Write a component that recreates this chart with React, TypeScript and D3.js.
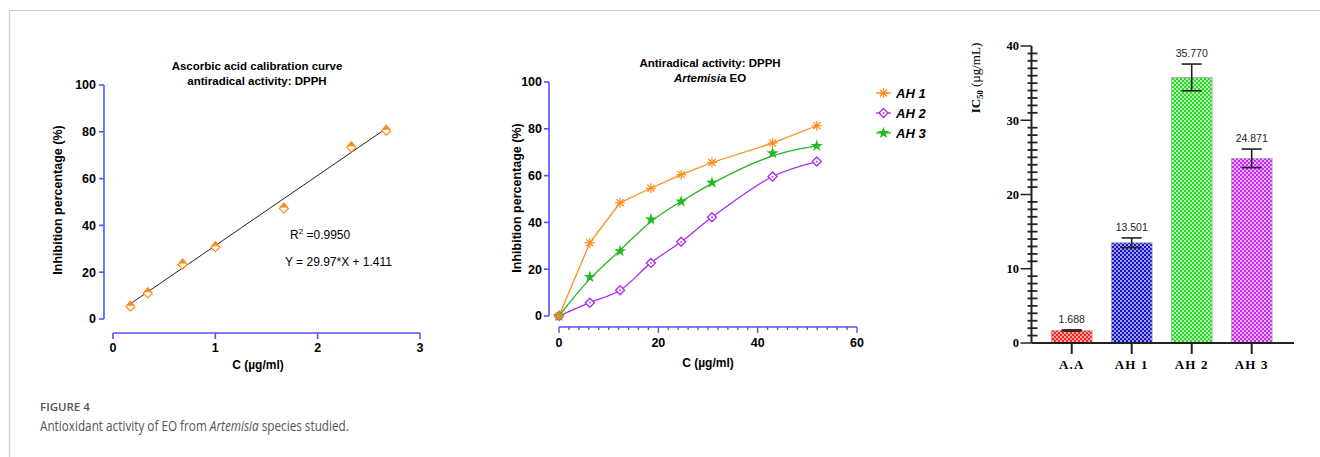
import React from 'react';
import * as d3 from 'd3';

// ---------- Data ----------
const calConc = [0.17, 0.34, 0.68, 1.0, 1.67, 2.33, 2.67];
const calInhib = [5.7, 11.4, 23.7, 31.1, 47.7, 73.8, 80.9];
const calSlope = 29.97;
const calIntercept = 1.411;
const calTicksX = [0, 1, 2, 3];
const calTicksY = [0, 20, 40, 60, 80, 100];

const eoConc = [0, 6.2, 12.3, 18.5, 24.6, 30.8, 43.0, 51.9];
const ah1 = [0, 31.3, 48.4, 54.6, 60.4, 65.6, 73.9, 81.3];
const ah2 = [0, 5.7, 11.0, 22.7, 31.7, 42.2, 59.6, 66.0];
const ah3 = [0, 16.7, 27.7, 41.3, 48.9, 57.0, 69.6, 72.7];
const eoTicksX = [0, 20, 40, 60];
const eoTicksY = [0, 20, 40, 60, 80, 100];
const seriesNames = ['AH 1', 'AH 2', 'AH 3'];

const barCats = ['A.A', 'AH 1', 'AH 2', 'AH 3'];
const ic50 = [1.688, 13.501, 35.77, 24.871];
const ic50Err = [0.08, 0.65, 1.8, 1.25];
const ic50Labels = ['1.688', '13.501', '35.770', '24.871'];
const barTicksY = [0, 10, 20, 30, 40];

// ---------- Styles ----------
const BLUE = '#5252ff';
const ORANGE = '#ff8c1a';
const PURPLE = '#b22cf0';
const GREEN = '#22b822';
const SANS = '"Liberation Sans", Arial, sans-serif';
const SERIF = '"Liberation Serif", "Times New Roman", serif';
const barColors = ['#ff1f1f', '#1414cc', '#2ed62e', '#c42cf0'];
const TICK_FS = 12.5;
const LABEL_FS = 12.5;
const TITLE_FS = 11.5;

function Asterisk({ x, y, r, color }: any) {
  const lines = [0, 45, 90, 135].map((a) => {
    const rad = (a * Math.PI) / 180;
    return (
      <line key={a} x1={x - r * Math.cos(rad)} y1={y - r * Math.sin(rad)} x2={x + r * Math.cos(rad)} y2={y + r * Math.sin(rad)} stroke={color} strokeWidth={1.2} />
    );
  });
  return <g>{lines}</g>;
}

function DiamondDot({ x, y, r, color }: any) {
  return (
    <g>
      <path d={`M${x},${y - r}L${x + r},${y}L${x},${y + r}L${x - r},${y}Z`} fill="white" stroke={color} strokeWidth={1.4} />
      <circle cx={x} cy={y} r={0.9} fill={color} />
    </g>
  );
}

function Star({ x, y, size, color }: any) {
  const p = d3.symbol().type(d3.symbolStar).size(size)() as string;
  return <path d={p} transform={`translate(${x},${y})`} fill={color} />;
}

function CalChart() {
  const x = d3.scaleLinear().domain([0, 3]).range([113, 420]);
  const y = d3.scaleLinear().domain([0, 100]).range([319, 85]);
  const xAxisY = 333;
  const yAxisX = 104;
  const x0 = d3.min(calConc) as number;
  const x1 = d3.max(calConc) as number;
  return (
    <g fontFamily={SANS}>
      <text x={257} y={70} textAnchor="middle" fontSize={TITLE_FS} fontWeight="bold">Ascorbic acid calibration curve</text>
      <text x={257} y={85} textAnchor="middle" fontSize={TITLE_FS} fontWeight="bold">antiradical activity: DPPH</text>
      <line x1={yAxisX} x2={yAxisX} y1={y(100)} y2={y(0)} stroke={BLUE} strokeWidth={1.6} />
      {calTicksY.map((t) => (
        <g key={t}>
          <line x1={yAxisX - 5} x2={yAxisX} y1={y(t)} y2={y(t)} stroke={BLUE} strokeWidth={1.6} />
          <text x={yAxisX - 8} y={y(t)} dy="0.35em" textAnchor="end" fontSize={TICK_FS} fontWeight="bold">{t}</text>
        </g>
      ))}
      <line x1={x(0)} x2={x(3)} y1={xAxisY} y2={xAxisY} stroke={BLUE} strokeWidth={1.6} />
      {calTicksX.map((t) => (
        <g key={t}>
          <line x1={x(t)} x2={x(t)} y1={xAxisY} y2={xAxisY + 6} stroke={BLUE} strokeWidth={1.6} />
          <text x={x(t)} y={348} dy="0.35em" textAnchor="middle" fontSize={TICK_FS} fontWeight="bold">{t}</text>
        </g>
      ))}
      <text transform={`translate(58,200) rotate(-90)`} textAnchor="middle" fontSize={LABEL_FS} fontWeight="bold" dy="0.35em">Inhibition percentage (%)</text>
      <text x={258} y={365} dy="0.35em" textAnchor="middle" fontSize={12} fontWeight="bold">C (µg/ml)</text>
      <line x1={x(x0)} y1={y(calSlope * x0 + calIntercept)} x2={x(x1)} y2={y(calSlope * x1 + calIntercept)} stroke="#222" strokeWidth={1} />
      {calConc.map((c, i) => {
        const cx = x(c);
        const cy = y(calInhib[i]);
        const r = 4.5;
        return (
          <g key={i}>
            <path d={`M${cx},${cy - r + 1}L${cx + r},${cy + 1}L${cx},${cy + r + 1}L${cx - r},${cy + 1}Z`} fill="white" stroke={ORANGE} strokeWidth={1.2} />
            <path d={`M${cx},${cy - r - 1}L${cx + r},${cy}L${cx - r},${cy}Z`} fill={ORANGE} />
          </g>
        );
      })}
      <text x={290} y={239} fontSize={12}>
        R<tspan dy={-5} fontSize={8}>2</tspan><tspan dy={5}> =0.9950</tspan>
      </text>
      <text x={285} y={266} fontSize={12}>Y = 29.97*X + 1.411</text>
    </g>
  );
}

function EOChart() {
  const x = d3.scaleLinear().domain([0, 60]).range([559, 857]);
  const y = d3.scaleLinear().domain([0, 100]).range([316, 82]);
  const xAxisY = 327;
  const yAxisX = 549;
  const minor = d3.range(0, 61, 2);
  const pts1 = eoConc.map((c, i) => [x(c), y(ah1[i])] as [number, number]);
  const pts2 = eoConc.map((c, i) => [x(c), y(ah2[i])] as [number, number]);
  const pts3 = eoConc.map((c, i) => [x(c), y(ah3[i])] as [number, number]);
  const lin = d3.line().curve(d3.curveLinear);
  const cr = d3.line().curve(d3.curveCatmullRom);
  const bas = d3.line().curve(d3.curveBasis);
  const legendY = [93, 113, 133];
  return (
    <g fontFamily={SANS}>
      <text x={710} y={67} textAnchor="middle" fontSize={TITLE_FS} fontWeight="bold">Antiradical activity: DPPH</text>
      <text x={710} y={82} textAnchor="middle" fontSize={TITLE_FS} fontWeight="bold"><tspan fontStyle="italic">Artemisia</tspan> EO</text>
      <line x1={yAxisX} x2={yAxisX} y1={y(100)} y2={y(0)} stroke={BLUE} strokeWidth={1.6} />
      {eoTicksY.map((t) => (
        <g key={t}>
          <line x1={yAxisX - 5} x2={yAxisX} y1={y(t)} y2={y(t)} stroke={BLUE} strokeWidth={1.6} />
          <text x={yAxisX - 7} y={y(t)} dy="0.35em" textAnchor="end" fontSize={TICK_FS} fontWeight="bold">{t}</text>
        </g>
      ))}
      <line x1={x(0)} x2={x(60)} y1={xAxisY} y2={xAxisY} stroke={BLUE} strokeWidth={1.6} />
      {minor.map((t) => (
        <line key={t} x1={x(t)} x2={x(t)} y1={xAxisY} y2={xAxisY + (t % 20 === 0 ? 6 : 3)} stroke={BLUE} strokeWidth={1.4} />
      ))}
      {eoTicksX.map((t) => (
        <text key={t} x={x(t)} y={343} dy="0.35em" textAnchor="middle" fontSize={TICK_FS} fontWeight="bold">{t}</text>
      ))}
      <text transform={`translate(517,198) rotate(-90)`} textAnchor="middle" fontSize={LABEL_FS} fontWeight="bold" dy="0.35em">Inhibition percentage (%)</text>
      <text x={708} y={363} dy="0.35em" textAnchor="middle" fontSize={12} fontWeight="bold">C (µg/ml)</text>
      <path d={lin(pts1) as string} fill="none" stroke={ORANGE} strokeWidth={1.3} />
      <path d={cr(pts2) as string} fill="none" stroke={PURPLE} strokeWidth={1.3} />
      <path d={bas(pts3) as string} fill="none" stroke={GREEN} strokeWidth={1.3} />
      {pts2.map((p, i) => <DiamondDot key={'d' + i} x={p[0]} y={p[1]} r={4.5} color={PURPLE} />)}
      {pts3.map((p, i) => <Star key={'s' + i} x={p[0]} y={p[1]} size={45} color={GREEN} />)}
      {pts1.map((p, i) => <Asterisk key={'a' + i} x={p[0]} y={p[1]} r={5} color={ORANGE} />)}
      <line x1={876} x2={891} y1={legendY[0]} y2={legendY[0]} stroke={ORANGE} strokeWidth={1.3} />
      <Asterisk x={883.5} y={legendY[0]} r={5} color={ORANGE} />
      <line x1={876} x2={891} y1={legendY[1]} y2={legendY[1]} stroke={PURPLE} strokeWidth={1.3} />
      <DiamondDot x={883.5} y={legendY[1]} r={4.5} color={PURPLE} />
      <line x1={876} x2={891} y1={legendY[2]} y2={legendY[2]} stroke={GREEN} strokeWidth={1.3} />
      <Star x={883.5} y={legendY[2]} size={45} color={GREEN} />
      {seriesNames.map((s, i) => (
        <text key={s} x={896} y={legendY[i]} dy="0.35em" fontSize={13} fontWeight="bold" fontStyle="italic">{s}</text>
      ))}
    </g>
  );
}

function BarChart() {
  const y = d3.scaleLinear().domain([0, 40]).range([343, 46]);
  const xb = d3.scaleBand().domain(barCats).range([1041.7, 1281.7]).paddingInner(0.32).paddingOuter(0.16);
  const yAxisX = 1031.5;
  const minor = d3.range(0, 41, 1);
  return (
    <g>
      <defs>
        {barColors.map((c, i) => (
          <pattern key={i} id={`chk${i}`} width={4} height={4} patternUnits="userSpaceOnUse">
            <rect width={4} height={4} fill={c} />
            <rect x={0} y={0} width={2} height={2} fill="white" opacity={0.6} />
            <rect x={2} y={2} width={2} height={2} fill="white" opacity={0.6} />
          </pattern>
        ))}
      </defs>
      {barCats.map((c, i) => {
        const x0 = xb(c) as number;
        const w = xb.bandwidth();
        const cx = x0 + w / 2;
        return (
          <g key={c}>
            <rect x={x0} y={y(ic50[i])} width={w} height={y(0) - y(ic50[i])} fill={`url(#chk${i})`} stroke="#aaaaaa" strokeWidth={0.8} />
            <line x1={cx} x2={cx} y1={y(ic50[i] - ic50Err[i])} y2={y(ic50[i] + ic50Err[i])} stroke="#222" strokeWidth={1.6} />
            <line x1={cx - 10} x2={cx + 10} y1={y(ic50[i] + ic50Err[i])} y2={y(ic50[i] + ic50Err[i])} stroke="#222" strokeWidth={1.6} />
            <line x1={cx - 10} x2={cx + 10} y1={y(ic50[i] - ic50Err[i])} y2={y(ic50[i] - ic50Err[i])} stroke="#222" strokeWidth={1.6} />
            <text x={cx} y={y(ic50[i] + ic50Err[i]) - 7} textAnchor="middle" fontFamily={SANS} fontSize={10.5} fill="#222">{ic50Labels[i]}</text>
            <line x1={cx} x2={cx} y1={y(0)} y2={y(0) + 11} stroke="#222" strokeWidth={2} />
            <text x={cx} y={364} dy="0.35em" textAnchor="middle" fontFamily={SERIF} fontSize={13} fontWeight="bold" letterSpacing={1.2}>{c}</text>
          </g>
        );
      })}
      <line x1={yAxisX} x2={yAxisX} y1={y(40)} y2={y(0)} stroke="#222" strokeWidth={2} />
      <line x1={yAxisX} x2={1294} y1={y(0)} y2={y(0)} stroke="#222" strokeWidth={2} />
      {minor.map((t) => (
        t % 10 === 0 ? (
          <line key={t} x1={yAxisX - 11} x2={yAxisX} y1={y(t)} y2={y(t)} stroke="#222" strokeWidth={1.5} />
        ) : (
          <line key={t} x1={yAxisX - 4} x2={yAxisX + 6} y1={y(t)} y2={y(t)} stroke="#222" strokeWidth={1.8} />
        )
      ))}
      {barTicksY.map((t) => (
        <text key={t} x={1019} y={y(t)} dy="0.35em" textAnchor="end" fontFamily={SERIF} fontSize={12.5} fontWeight="bold">{t}</text>
      ))}
      <text transform={`translate(975,78) rotate(-90)`} textAnchor="middle" dy="0.35em" fontFamily={SERIF} fontSize={13}>
        <tspan fontWeight="bold">IC</tspan><tspan fontSize={8.5} dy={3} fontWeight="bold">50</tspan><tspan dy={-3}> (µg/mL)</tspan>
      </text>
    </g>
  );
}

export default function App() {
  return (
    <svg width={1320} height={457} style={{ position: 'absolute', left: 0, top: 0, background: 'white' }}>
      <rect x={0} y={0} width={1320} height={457} fill="white" />
      <line x1={9} x2={1320} y1={10.5} y2={10.5} stroke="#cfcfcf" strokeWidth={1.2} />
      <line x1={9.5} x2={9.5} y1={10} y2={457} stroke="#cfcfcf" strokeWidth={1.2} />
      <CalChart />
      <EOChart />
      <BarChart />
      <text x={40} y={411} fontFamily='"Open Sans", "Noto Sans", sans-serif' fontSize={11.5} fill="#555" fontWeight={600}>FIGURE 4</text>
      <text transform="translate(40,431) scale(0.84,1)" fontFamily='"Open Sans", "Noto Sans", sans-serif' fontSize={14} fill="#555">
        Antioxidant activity of EO from <tspan fontStyle="italic">Artemisia</tspan> species studied.
      </text>
    </svg>
  );
}
